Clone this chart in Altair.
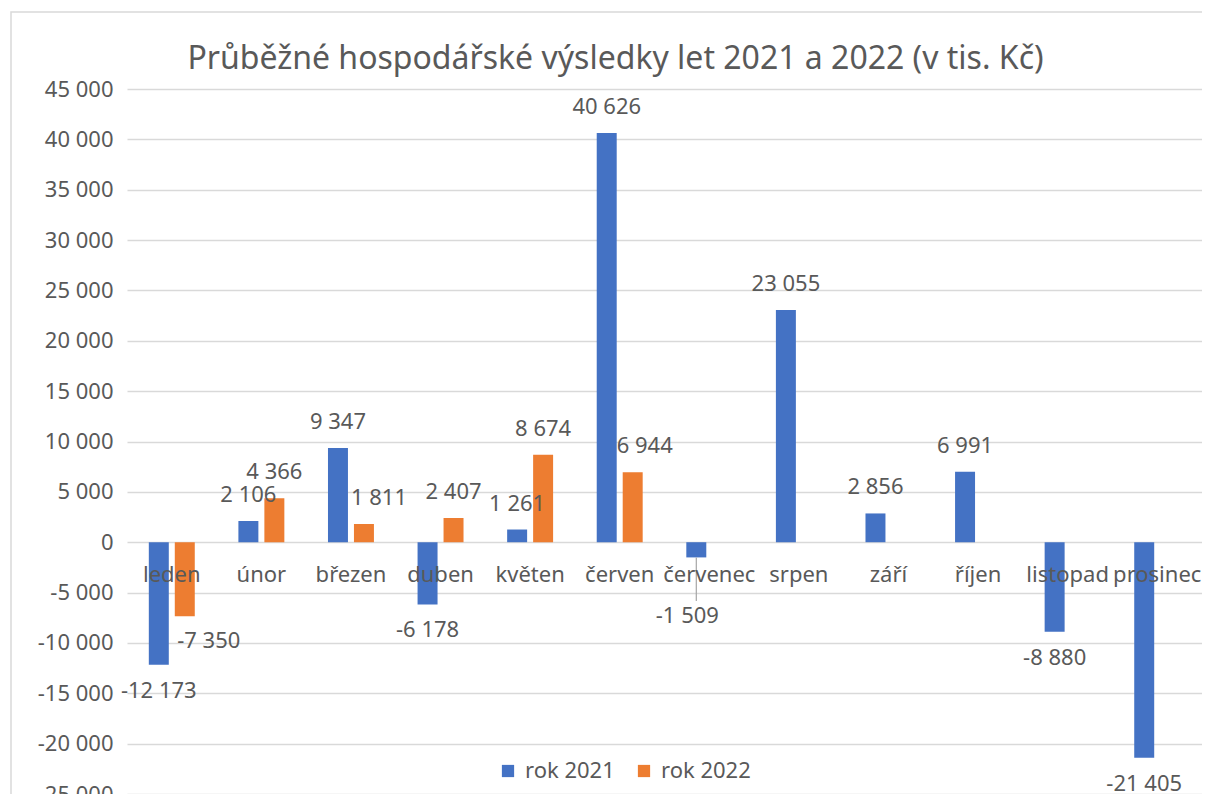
import altair as alt
import pandas as pd

months = ["leden", "únor", "březen", "duben", "květen", "červen",
          "červenec", "srpen", "září", "říjen", "listopad", "prosinec"]
rok2021 = [-12173, 2106, 9347, -6178, 1261, 40626, -1509, 23055, 2856, 6991, -8880, -21405]
rok2022 = [-7350, 4366, 1811, 2407, 8674, 6944, None, None, None, None, None, None]
series = ["rok 2021", "rok 2022"]
colors = ["#4472C4", "#ED7D31"]
y_ticks = list(range(-25000, 45001, 5000))
title_text = "Průběžné hospodářské výsledky let 2021 a 2022 (v tis. Kč)"

rows = []
for m, a, b in zip(months, rok2021, rok2022):
    rows.append({"month": m, "year": series[0], "value": a})
    if b is not None:
        rows.append({"month": m, "year": series[1], "value": b})
df = pd.DataFrame(rows)
df["key"] = df["month"] + "|" + df["year"]
df["zero"] = 0

nudges = {
    "leden|rok 2022": (24, 25),
    "březen|rok 2022": (15, -26),
    "červen|rok 2022": (12, -26),
    "červenec|rok 2021": (-9, 59),
}

W, H = 1075, 705
TEXT = "#595959"
GRID = "#D9D9D9"
FONT = "Noto Sans"
FS = 22

fmt = "(datum.value < 0 ? '-' : '') + replace(format(abs(datum.value), ','), ',', ' ')"

x_enc = alt.X("month:N", sort=months, axis=None,
              scale=alt.Scale(paddingInner=0.487, paddingOuter=0.2435))
xo_enc = alt.XOffset("year:N",
                     scale=alt.Scale(domain=series, paddingInner=0.2308, paddingOuter=0))
y_scale = alt.Scale(domain=[-25000, 45000], nice=False)

base = alt.Chart(df)

# outer chart-area frame (decorative)
frame = base.transform_filter('datum.key == "leden|rok 2021"').mark_rect(
    fillOpacity=0, stroke=GRID, strokeWidth=1.5
).encode(x=alt.value(-116), x2=alt.value(1300), y=alt.value(-77), y2=alt.value(900))

bars = base.mark_bar().encode(
    x=x_enc,
    xOffset=xo_enc,
    y=alt.Y("value:Q", scale=y_scale,
            axis=alt.Axis(values=y_ticks, labelExpr=fmt, title=None, ticks=False,
                          domain=False, grid=True, gridColor=GRID, gridWidth=1.5,
                          labelFontSize=FS, labelColor=TEXT, labelFont=FONT,
                          labelPadding=14)),
    y2="zero:Q",
    color=alt.Color("year:N",
                    scale=alt.Scale(domain=series, range=colors),
                    legend=alt.Legend(title=None, orient="none", legendX=370, legendY=671,
                                      direction="horizontal", symbolType="square",
                                      symbolSize=150, symbolStrokeWidth=0,
                                      labelFontSize=FS, labelColor=TEXT, labelFont=FONT,
                                      labelOffset=6, columnPadding=18)),
)

cats = base.transform_filter(f'datum.year == "{series[0]}"').mark_text(
    dx=13, dy=33, fontSize=FS, color=TEXT, font=FONT
).encode(x=x_enc, xOffset=xo_enc, y="zero:Q", text="month:N")

special = list(nudges.keys())
sp_cond = " && ".join(f'datum.key != "{k}"' for k in special)

lab_base = base.transform_calculate(label=fmt)

pos_labels = lab_base.transform_filter(sp_cond).transform_filter("datum.value >= 0").mark_text(
    dy=-26, fontSize=FS, color=TEXT, font=FONT
).encode(x=x_enc, xOffset=xo_enc, y="value:Q", text="label:N")
neg_labels = lab_base.transform_filter(sp_cond).transform_filter("datum.value < 0").mark_text(
    dy=26, fontSize=FS, color=TEXT, font=FONT
).encode(x=x_enc, xOffset=xo_enc, y="value:Q", text="label:N")

leader = base.transform_filter('datum.key == "červenec|rok 2021"').mark_rule(
    color="#A6A6A6", strokeWidth=1.2
).encode(x=x_enc, xOffset=xo_enc, y="value:Q", y2=alt.value(512))

layers = [frame, bars, leader, cats, pos_labels, neg_labels]
for k, (dx, dy) in nudges.items():
    layers.append(
        lab_base.transform_filter(f'datum.key == "{k}"').mark_text(
            dx=dx, dy=dy, fontSize=FS, color=TEXT, font=FONT
        ).encode(x=x_enc, xOffset=xo_enc, y="value:Q", text="label:N")
    )

chart = alt.layer(*layers).properties(
    width=W, height=H,
    padding={"left": 119, "top": 81, "right": 0, "bottom": 0},
    autosize=alt.AutoSizeParams(type="none"),
    title=alt.TitleParams(title_text, fontSize=32, font=FONT, color=TEXT,
                          fontWeight="normal", anchor="middle", dx=-49, dy=68, offset=3),
).configure_view(stroke=None)

chart.save("out.html", embed_options={"renderer": "svg", "actions": False})
